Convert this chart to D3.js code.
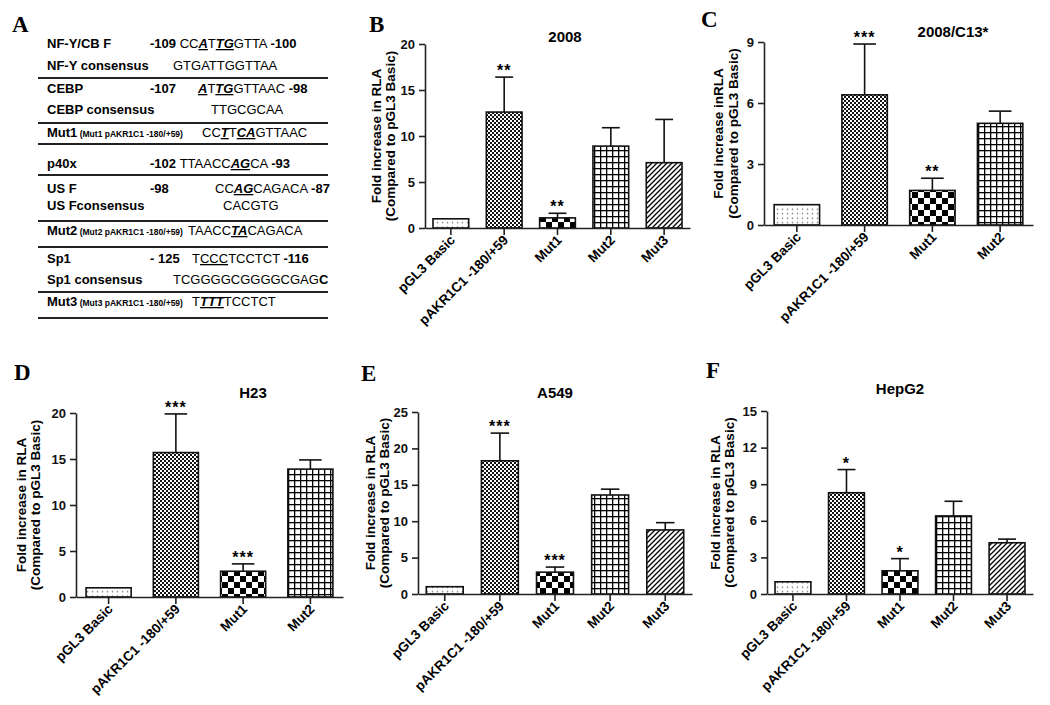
<!DOCTYPE html>
<html>
<head>
<meta charset="utf-8">
<script src="https://cdn.jsdelivr.net/npm/d3@7"></script>
<style>
  body { margin: 0; background: #fff; }
  svg text { font-family: "Liberation Sans", Arial, sans-serif; }
</style>
</head>
<body>
<svg id="fig" width="1050" height="705"></svg>
<script>
// bar categories
const catsFive = ['pGL3 Basic', 'pAKR1C1 -180/+59', 'Mut1', 'Mut2', 'Mut3'];
const catsFour = ['pGL3 Basic', 'pAKR1C1 -180/+59', 'Mut1', 'Mut2'];

// B: 2008
const valB = [1.0, 12.6, 1.1, 8.9, 7.1];
const errB = [0, 3.8, 0.5, 2.0, 4.7];
const sigB = ['', '**', '**', '', ''];
const ticksB = [0, 5, 10, 15, 20];

// C: 2008/C13*
const valC = [1.0, 6.4, 1.7, 5.0];
const errC = [0, 2.5, 0.6, 0.6];
const sigC = ['', '***', '**', ''];
const ticksC = [0, 3, 6, 9];

// D: H23
const valD = [1.0, 15.7, 2.8, 13.9];
const errD = [0, 4.2, 0.8, 1.0];
const sigD = ['', '***', '***', ''];
const ticksD = [0, 5, 10, 15, 20];

// E: A549
const valE = [1.0, 18.3, 3.0, 13.6, 8.8];
const errE = [0, 3.8, 0.7, 0.8, 1.0];
const sigE = ['', '***', '***', '', ''];
const ticksE = [0, 5, 10, 15, 20, 25];

// F: HepG2
const valF = [1.0, 8.3, 1.9, 6.4, 4.2];
const errF = [0, 1.9, 1.0, 1.2, 0.3];
const sigF = ['', '*', '*', '', ''];
const ticksF = [0, 3, 6, 9, 12, 15];

// A: sequence table (label, small note, sequence chunks of [text, style])
const tableLabels = ['NF-Y/CB F', 'NF-Y consensus', 'CEBP', 'CEBP consensus', 'Mut1', 'p40x',
  'US F', 'US Fconsensus', 'Mut2', 'Sp1', 'Sp1 consensus', 'Mut3'];
const tableNotes = ['', '', '', '', ' (Mut1 pAKR1C1 -180/+59)', '', '', '', ' (Mut2 pAKR1C1 -180/+59)',
  '', '', ' (Mut3 pAKR1C1 -180/+59)'];
const tableSeqs = [
  [[['-109 ', 'b'], ['CC', 'n'], ['A', 'biu'], ['T', 'n'], ['TG', 'biu'], ['GTTA ', 'n'], ['-100', 'b']]],
  [[['GTGATTGGTTAA', 'n']]],
  [[['-107', 'b']], [['A', 'biu'], ['T', 'n'], ['TG', 'biu'], ['GTTAAC ', 'n'], ['-98', 'b']]],
  [[['TTGCGCAA', 'n']]],
  [[['CC', 'n'], ['T', 'biu'], ['T', 'n'], ['CA', 'biu'], ['GTTAAC', 'n']]],
  [[['-102 ', 'b'], ['TTAACC', 'n'], ['AG', 'biu'], ['CA ', 'n'], ['-93', 'b']]],
  [[['-98', 'b']], [['CC', 'n'], ['AG', 'biu'], ['CAGACA ', 'n'], ['-87', 'b']]],
  [[['CACGTG', 'n']]],
  [[['TAACC', 'n'], ['TA', 'biu'], ['CAGACA', 'n']]],
  [[['- 125', 'b']], [['T', 'n'], ['CCC', 'u'], ['TCCTCT ', 'n'], ['-116', 'b']]],
  [[['TCGGGGCGGGGCGAG', 'n'], ['C', 'b']]],
  [[['T', 'n'], ['TTT', 'biu'], ['TCCTCT', 'n']]]
];

// table layout
const rowY = [48, 70, 93, 114, 137, 168, 193, 210, 235, 263, 284, 306];
const chunkX = [[150], [173], [150, 198], [211], [202], [150], [150, 215], [223], [188], [150, 192], [173], [192]];
const ruleY = [78, 123, 144, 175, 221, 247, 292, 318];

const svg = d3.select('#fig');
const defs = svg.append('defs');

// fill patterns
const pDots = defs.append('pattern').attr('id', 'dots').attr('patternUnits', 'userSpaceOnUse')
  .attr('width', 5).attr('height', 4.5);
pDots.append('rect').attr('width', 5).attr('height', 4.5).attr('fill', '#fff');
pDots.append('circle').attr('cx', 2.5).attr('cy', 2.2).attr('r', 0.75).attr('fill', '#777');

const pFine = defs.append('pattern').attr('id', 'fine').attr('patternUnits', 'userSpaceOnUse')
  .attr('width', 4).attr('height', 4);
pFine.append('rect').attr('width', 4).attr('height', 4).attr('fill', '#fff');
pFine.append('rect').attr('width', 2).attr('height', 2).attr('fill', '#111');
pFine.append('rect').attr('x', 2).attr('y', 2).attr('width', 2).attr('height', 2).attr('fill', '#111');

const pCheck = defs.append('pattern').attr('id', 'check').attr('patternUnits', 'userSpaceOnUse')
  .attr('width', 12).attr('height', 12);
pCheck.append('rect').attr('width', 12).attr('height', 12).attr('fill', '#fff');
pCheck.append('rect').attr('width', 6).attr('height', 6).attr('fill', '#000');
pCheck.append('rect').attr('x', 6).attr('y', 6).attr('width', 6).attr('height', 6).attr('fill', '#000');

const pGrid = defs.append('pattern').attr('id', 'grid').attr('patternUnits', 'userSpaceOnUse')
  .attr('width', 6).attr('height', 6);
pGrid.append('rect').attr('width', 6).attr('height', 6).attr('fill', '#fff');
pGrid.append('rect').attr('width', 6).attr('height', 1.3).attr('fill', '#000');
pGrid.append('rect').attr('width', 1.3).attr('height', 6).attr('fill', '#000');

const pHatch = defs.append('pattern').attr('id', 'hatch').attr('patternUnits', 'userSpaceOnUse')
  .attr('width', 5).attr('height', 5);
pHatch.append('rect').attr('width', 5).attr('height', 5).attr('fill', '#fff');
pHatch.append('path').attr('d', 'M0,5L5,0M-1,1L1,-1M4,6L6,4')
  .attr('stroke', '#000').attr('stroke-width', 1.3);

const fills = ['url(#dots)', 'url(#fine)', 'url(#check)', 'url(#grid)', 'url(#hatch)'];

// panel letters
const letterFont = '"Liberation Serif", "Times New Roman", serif';
function letter(t, x, y) {
  svg.append('text').attr('x', x).attr('y', y).text(t)
    .style('font-family', letterFont).attr('font-weight', 'bold').attr('font-size', 23);
}

// ----- panel A: table -----
letter('A', 12, 32);
const tbl = svg.append('g');
ruleY.forEach(y => tbl.append('line').attr('x1', 38).attr('x2', 328).attr('y1', y).attr('y2', y)
  .attr('stroke', '#222').attr('stroke-width', 2));

tableLabels.forEach((lab, i) => {
  const t = tbl.append('text').attr('x', 47).attr('y', rowY[i]).style('white-space', 'pre')
    .attr('font-size', 13).attr('font-weight', 'bold');
  t.append('tspan').text(lab);
  if (tableNotes[i]) t.append('tspan').attr('font-size', 8.5).text(tableNotes[i]);
  tableSeqs[i].forEach((chunk, k) => {
    const s = tbl.append('text').attr('x', chunkX[i][k]).attr('y', rowY[i])
      .style('white-space', 'pre').attr('font-size', 13);
    chunk.forEach(([txt, st]) => {
      const sp = s.append('tspan').text(txt);
      if (st.includes('b')) sp.attr('font-weight', 'bold');
      if (st.includes('i')) sp.attr('font-style', 'italic');
      if (st.includes('u')) sp.style('text-decoration', 'underline');
    });
  });
});

// ----- bar panels -----
const panels = [
  { L: 'B', lx: 369, ly: 32, title: '2008', tx: 565, ty: 42, x0: 425, x1: 690, yTop: 44, yBot: 228,
    cats: catsFive, vals: valB, errs: errB, sig: sigB, ticks: ticksB,
    ylab: ['Fold increase in RLA', '(Compared to pGL3 Basic)'], yl: [44, 30] },
  { L: 'C', lx: 701, ly: 27, title: '2008/C13*', tx: 953, ty: 37, x0: 764, x1: 1033, yTop: 42, yBot: 225,
    cats: catsFour, vals: valC, errs: errC, sig: sigC, ticks: ticksC,
    ylab: ['Fold increase inRLA', '(Compared to pGL3 Basic)'], yl: [41, 26] },
  { L: 'D', lx: 14, ly: 380, title: 'H23', tx: 253, ty: 398, x0: 76, x1: 343, yTop: 413, yBot: 597,
    cats: catsFour, vals: valD, errs: errD, sig: sigD, ticks: ticksD,
    ylab: ['Fold increase in RLA', '(Compared to pGL3 Basic)'], yl: [50, 36] },
  { L: 'E', lx: 361, ly: 381, title: 'A549', tx: 555, ty: 398, x0: 418, x1: 692, yTop: 412, yBot: 594,
    cats: catsFive, vals: valE, errs: errE, sig: sigE, ticks: ticksE,
    ylab: ['Fold increase in RLA', '(Compared to pGL3 Basic)'], yl: [43, 29] },
  { L: 'F', lx: 706, ly: 378, title: 'HepG2', tx: 900, ty: 394, x0: 767, x1: 1033, yTop: 411, yBot: 594,
    cats: catsFive, vals: valF, errs: errF, sig: sigF, ticks: ticksF,
    ylab: ['Fold increase in RLA', '(Compared to pGL3 Basic)'], yl: [47, 33] }
];

panels.forEach(p => {
  letter(p.L, p.lx, p.ly);
  const g = svg.append('g');

  const x = d3.scaleBand().domain(p.cats).range([p.x0, p.x1])
    .paddingInner(0.33).paddingOuter(0.15);
  const y = d3.scaleLinear().domain([0, d3.max(p.ticks)]).range([p.yBot, p.yTop]);
  const bw = x.bandwidth();

  // title
  g.append('text').attr('x', p.tx).attr('y', p.ty).attr('text-anchor', 'middle')
    .attr('font-size', 15).attr('font-weight', 'bold').text(p.title);

  // error bars (upper only)
  p.cats.forEach((c, i) => {
    if (!p.errs[i]) return;
    const cx = x(c) + bw / 2;
    g.append('line').attr('x1', cx).attr('x2', cx).attr('y1', y(p.vals[i])).attr('y2', y(p.vals[i] + p.errs[i]))
      .attr('stroke', '#111').attr('stroke-width', 1.6);
    g.append('line').attr('x1', cx - bw * 0.25).attr('x2', cx + bw * 0.25)
      .attr('y1', y(p.vals[i] + p.errs[i])).attr('y2', y(p.vals[i] + p.errs[i]))
      .attr('stroke', '#111').attr('stroke-width', 1.6);
  });

  // bars
  g.selectAll('rect.bar').data(p.cats).join('rect').attr('class', 'bar')
    .attr('x', c => x(c)).attr('width', bw)
    .attr('y', (c, i) => y(p.vals[i])).attr('height', (c, i) => y(0) - y(p.vals[i]))
    .attr('fill', (c, i) => fills[i]).attr('stroke', '#111').attr('stroke-width', 1.6);

  // significance stars
  p.cats.forEach((c, i) => {
    if (!p.sig[i]) return;
    g.append('text').attr('x', x(c) + bw / 2).attr('y', y(p.vals[i] + p.errs[i]) - 1)
      .attr('text-anchor', 'middle').attr('font-size', 16).attr('font-weight', 'bold')
      .attr('letter-spacing', 1).text(p.sig[i]);
  });

  // y axis
  const ya = g.append('g').attr('transform', `translate(${p.x0},0)`)
    .call(d3.axisLeft(y).tickValues(p.ticks).tickSize(6).tickSizeOuter(0).tickPadding(4));
  ya.select('.domain').attr('stroke', '#222').attr('stroke-width', 1.6);
  ya.selectAll('.tick line').attr('stroke', '#222').attr('stroke-width', 1.6);
  ya.selectAll('.tick text').attr('font-size', 13).attr('font-weight', 'bold').attr('fill', '#111')
    .style('font-family', '"Liberation Sans", Arial, sans-serif');

  // x axis
  const xa = g.append('g').attr('transform', `translate(0,${p.yBot})`)
    .call(d3.axisBottom(x).tickSize(7).tickSizeOuter(0).tickFormat(''));
  xa.select('.domain').attr('stroke', '#222').attr('stroke-width', 1.6);
  xa.selectAll('.tick line').attr('stroke', '#222').attr('stroke-width', 1.6);

  p.cats.forEach(c => {
    const cx = x(c) + bw / 2;
    g.append('text').attr('transform', `translate(${cx + 5},${p.yBot + 13}) rotate(-45)`)
      .attr('text-anchor', 'end').attr('font-size', 13.5).attr('font-weight', 'bold').text(c);
  });

  // y label
  const ym = (p.yTop + p.yBot) / 2;
  p.ylab.forEach((t, k) => {
    g.append('text').attr('transform', `translate(${p.x0 - p.yl[k]},${ym}) rotate(-90)`)
      .attr('text-anchor', 'middle').attr('font-size', 13.5).attr('font-weight', 'bold').text(t);
  });
});
</script>
</body>
</html>
